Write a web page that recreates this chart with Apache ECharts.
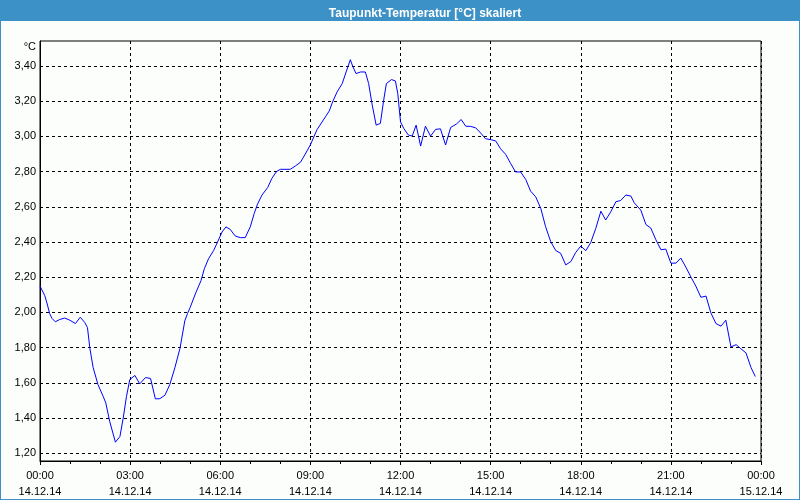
<!DOCTYPE html>
<html>
<head>
<meta charset="utf-8">
<script src="https://cdn.jsdelivr.net/npm/echarts@6/dist/echarts.min.js"></script>
<style>
html,body{margin:0;padding:0;background:#fcfefc;}
#c{width:800px;height:500px;}
</style>
</head>
<body>
<div id="c"></div>
<script>
// hours since 14.12.14 00:00
var hours = [0.00,0.16,0.24,0.32,0.40,0.51,0.66,0.82,0.99,1.18,1.34,1.49,1.58,1.66,1.77,1.93,2.10,2.19,2.32,2.51,2.66,2.77,2.88,2.99,3.16,3.32,3.51,3.68,3.84,3.99,4.16,4.32,4.49,4.66,4.82,4.91,5.00,5.17,5.36,5.47,5.61,5.78,5.91,6.06,6.19,6.33,6.50,6.67,6.83,7.00,7.13,7.24,7.39,7.58,7.72,7.87,8.00,8.33,8.50,8.67,8.83,9.00,9.22,9.50,9.63,9.74,9.89,10.06,10.19,10.33,10.41,10.52,10.67,10.83,10.94,11.06,11.19,11.33,11.44,11.53,11.70,11.83,11.91,12.00,12.11,12.26,12.39,12.52,12.67,12.83,13.00,13.17,13.33,13.50,13.67,13.86,14.02,14.17,14.33,14.50,14.67,14.83,15.02,15.17,15.33,15.50,15.67,15.83,16.00,16.17,16.33,16.50,16.67,16.83,17.00,17.17,17.33,17.50,17.67,17.83,18.00,18.17,18.33,18.50,18.67,18.83,19.00,19.17,19.33,19.50,19.67,19.78,20.00,20.17,20.33,20.50,20.67,20.83,21.00,21.17,21.33,21.50,21.67,21.83,22.00,22.17,22.33,22.50,22.67,22.83,23.00,23.17,23.33,23.50,23.67,23.81];
var dewPoint = [2.150,2.095,2.048,1.994,1.966,1.947,1.960,1.968,1.956,1.937,1.973,1.943,1.914,1.796,1.686,1.590,1.524,1.486,1.381,1.263,1.295,1.400,1.524,1.619,1.642,1.594,1.630,1.625,1.509,1.510,1.530,1.590,1.686,1.796,1.952,1.994,2.029,2.105,2.181,2.248,2.305,2.352,2.400,2.457,2.486,2.472,2.434,2.425,2.425,2.486,2.562,2.615,2.667,2.710,2.762,2.800,2.813,2.813,2.832,2.853,2.900,2.952,3.038,3.111,3.145,3.196,3.253,3.300,3.366,3.436,3.398,3.357,3.366,3.366,3.300,3.177,3.064,3.074,3.206,3.300,3.323,3.315,3.243,3.083,3.045,3.008,3.002,3.064,2.945,3.058,3.002,3.040,3.043,2.951,3.051,3.070,3.096,3.058,3.057,3.049,3.019,2.987,2.981,2.974,2.930,2.898,2.845,2.798,2.798,2.755,2.689,2.657,2.591,2.487,2.402,2.351,2.336,2.270,2.289,2.340,2.377,2.351,2.396,2.477,2.575,2.525,2.572,2.629,2.636,2.667,2.661,2.623,2.581,2.499,2.480,2.413,2.356,2.360,2.280,2.280,2.309,2.257,2.200,2.150,2.086,2.093,1.998,1.937,1.922,1.956,1.804,1.817,1.794,1.770,1.686,1.636];
var yTicks = [1.2,1.4,1.6,1.8,2.0,2.2,2.4,2.6,2.8,3.0,3.2,3.4];
var xTickTimes = ['00:00','03:00','06:00','09:00','12:00','15:00','18:00','21:00','00:00'];
var xTickDates = ['14.12.14','14.12.14','14.12.14','14.12.14','14.12.14','14.12.14','14.12.14','14.12.14','15.12.14'];
var titleText = 'Taupunkt-Temperatur [°C] skaliert';
var unitText = '°C';

var data = hours.map(function(h,i){return [h, dewPoint[i]];});
var chart = echarts.init(document.getElementById('c'), null, {renderer:'canvas'});
var FONT = '"Liberation Sans", Arial, sans-serif';
chart.setOption({
  animation:false,
  backgroundColor:'#fcfefc',
  title:{
    text:titleText, left:420, top:3, textAlign:'center',
    textStyle:{color:'#ffffff', fontSize:12, fontWeight:'bold', fontFamily:FONT}
  },
  graphic:[
    {type:'rect', left:0, top:0, shape:{width:800,height:21}, style:{fill:'#3c91c6'}, z:-1},
    {type:'rect', left:0, top:0, shape:{width:1,height:500}, style:{fill:'#3c91c6'}, z:-1},
    {type:'rect', left:799, top:0, shape:{width:1,height:500}, style:{fill:'#3c91c6'}, z:-1},
    {type:'rect', left:0, top:499, shape:{width:800,height:1}, style:{fill:'#3c91c6'}, z:-1}
  ],
  grid:{left:40, right:39, top:41, bottom:39, show:true, borderColor:'#000', borderWidth:1, backgroundColor:'transparent'},
  xAxis:{
    type:'value', min:0, max:24, interval:3,
    axisLine:{lineStyle:{color:'#000', width:1}},
    axisTick:{show:true, length:4, lineStyle:{color:'#000'}},
    minorTick:{show:true, splitNumber:3, length:3, lineStyle:{color:'#000'}},
    splitLine:{show:true, lineStyle:{color:'#000', type:[3,3], width:1}},
    axisLabel:{
      color:'#000', fontSize:11, fontFamily:FONT, margin:7, lineHeight:16,
      formatter:function(v){var i=Math.round(v/3); return xTickTimes[i]+'\n'+xTickDates[i];}
    }
  },
  yAxis:{
    type:'value', min:1.156, max:3.542,
    name:unitText, nameLocation:'end', nameGap:-6,
    nameTextStyle:{color:'#000', fontSize:11, fontFamily:FONT, align:'right', verticalAlign:'middle', padding:[0,4,0,0]},
    axisLine:{show:true, lineStyle:{color:'#000', width:1}},
    axisTick:{show:false, customValues:yTicks},
    splitLine:{show:true, lineStyle:{color:'#000', type:[3,3], width:1}},
    axisLabel:{
      customValues:yTicks,
      color:'#000', fontSize:11, fontFamily:FONT, margin:4,
      formatter:function(v){return v.toFixed(2).replace('.',',');}
    }
  },
  series:[{
    type:'line', data:data, showSymbol:false, symbol:'none',
    lineStyle:{color:'#0000ff', width:1}, itemStyle:{color:'#0000ff'}
  }]
});
</script>
</body>
</html>
